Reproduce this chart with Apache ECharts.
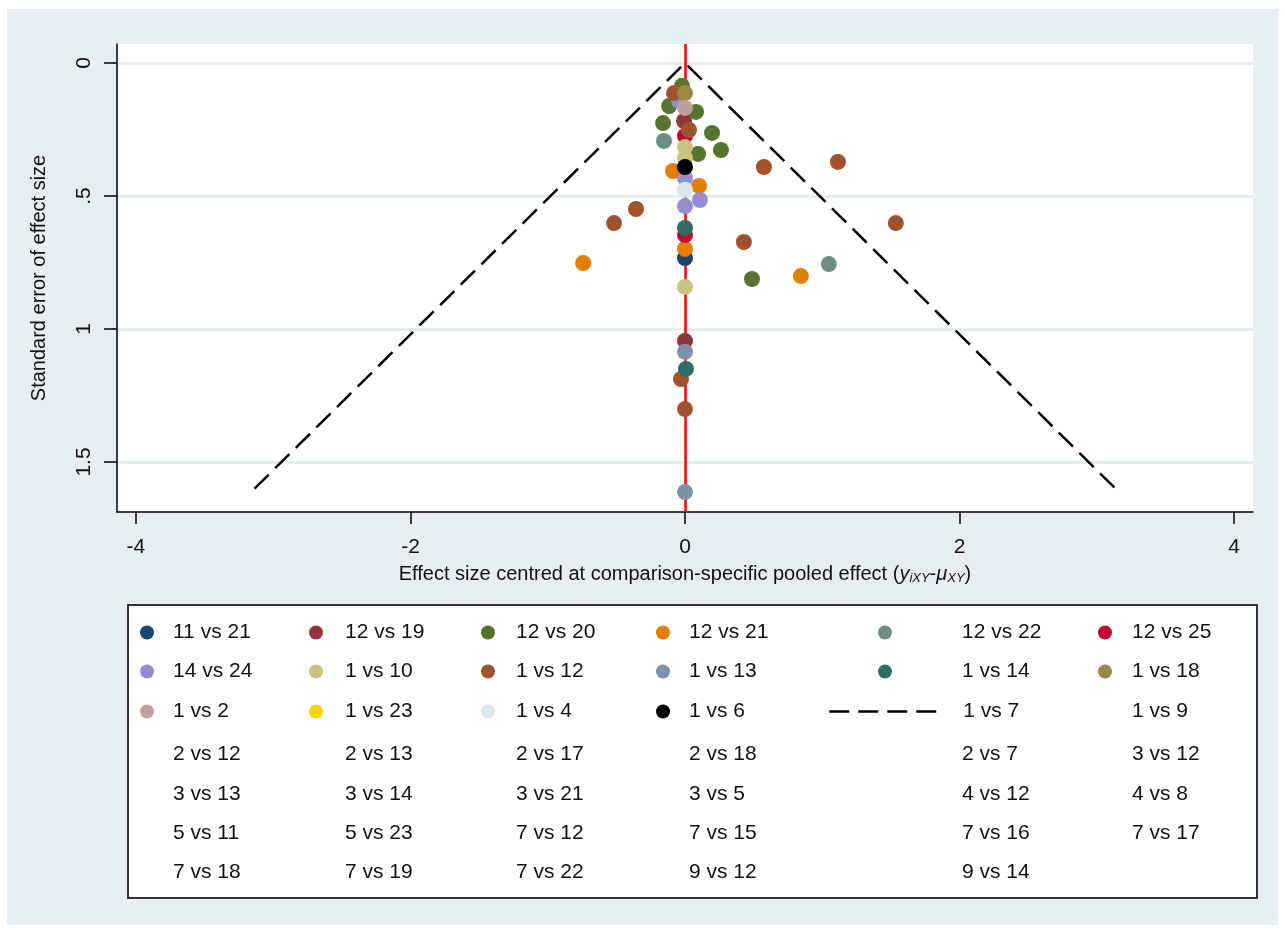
<!DOCTYPE html>
<html>
<head>
<meta charset="utf-8">
<script src="https://cdn.jsdelivr.net/npm/echarts@6/dist/echarts.min.js"></script>
<style>
  html, body { margin: 0; padding: 0; background: #fff; }
  #chart { position: absolute; left: 7px; top: 9px; width: 1271px; height: 916px; }
</style>
</head>
<body>
<div id="chart"></div>
<script>
// comparisons, in legend order
const comparisons = [
  '11 vs 21', '12 vs 19', '12 vs 20', '12 vs 21', '12 vs 22', '12 vs 25',
  '14 vs 24', '1 vs 10', '1 vs 12', '1 vs 13', '1 vs 14', '1 vs 18',
  '1 vs 2', '1 vs 23', '1 vs 4', '1 vs 6', '1 vs 7', '1 vs 9',
  '2 vs 12', '2 vs 13', '2 vs 17', '2 vs 18', '2 vs 7', '3 vs 12',
  '3 vs 13', '3 vs 14', '3 vs 21', '3 vs 5', '4 vs 12', '4 vs 8',
  '5 vs 11', '5 vs 23', '7 vs 12', '7 vs 15', '7 vs 16', '7 vs 17',
  '7 vs 18', '7 vs 19', '7 vs 22', '9 vs 12', '9 vs 14'
]

// [centred effect size, standard error]
const s11v21 = [[0, 0.733]]
const s12v19 = [[-0.007, 0.218], [0, 1.045]]
const s12v20 = [[-0.022, 0.086], [-0.116, 0.162], [0.080, 0.184], [-0.160, 0.226],
  [0.197, 0.263], [0.262, 0.327], [0.095, 0.342], [0.488, 0.812]]
const s12v21 = [[-0.087, 0.406], [0.102, 0.462], [0, 0.699], [-0.742, 0.752], [0.844, 0.801]]
const s12v22 = [[-0.153, 0.293], [1.048, 0.756]]
const s12v25 = [[0, 0.274], [0, 0.647]]
const s14v24 = [[-0.044, 0.143], [0, 0.432], [0.109, 0.515], [0, 0.538]]
const s1v10 = [[0, 0.316], [0, 0.357], [0, 0.842]]
const s1v12 = [[-0.080, 0.113], [0.029, 0.252], [0.575, 0.391], [1.114, 0.372],
  [-0.357, 0.549], [-0.517, 0.602], [1.536, 0.602], [0.429, 0.673],
  [-0.029, 1.188], [0, 1.301]]
const s1v13 = [[0, 1.086], [0, 1.613]]
const s1v14 = [[0, 0.620], [0.007, 1.150]]
const s1v18 = [[0, 0.113]]
const s1v2 = [[0, 0.169]]
const s1v23 = []
const s1v4 = [[0, 0.477]]
const s1v6 = [[0, 0.391]]

// pseudo 95% limits (drawn as "1 vs 7" in the legend)
const funnelX = [-3.136, 0, 3.136]
const funnelSE = [1.6, 0, 1.6]

const yTicks = [0, 0.5, 1, 1.5]
const xTicks = [-4, -2, 0, 2, 4]

const pointSets = {
  '11 vs 21': s11v21, '12 vs 19': s12v19, '12 vs 20': s12v20, '12 vs 21': s12v21,
  '12 vs 22': s12v22, '12 vs 25': s12v25, '14 vs 24': s14v24, '1 vs 10': s1v10,
  '1 vs 12': s1v12, '1 vs 13': s1v13, '1 vs 14': s1v14, '1 vs 18': s1v18,
  '1 vs 2': s1v2, '1 vs 23': s1v23, '1 vs 4': s1v4, '1 vs 6': s1v6
}
const colors = {
  '11 vs 21': '#1a476f', '12 vs 19': '#90353b', '12 vs 20': '#55752f', '12 vs 21': '#e37e00',
  '12 vs 22': '#6e8e84', '12 vs 25': '#c10534', '14 vs 24': '#938dd2', '1 vs 10': '#cac27e',
  '1 vs 12': '#a0522d', '1 vs 13': '#7b92a8', '1 vs 14': '#2d6d66', '1 vs 18': '#9c8847',
  '1 vs 2': '#bfa19c', '1 vs 23': '#ffd200', '1 vs 4': '#d9e6eb', '1 vs 6': '#000000'
}

const font = "'Liberation Sans', Arial, sans-serif"
const OX = 7, OY = 9 // chart div offset in the page

// legend grid (page coords)
const rowY = [633, 672, 712, 755, 795, 834, 873]
const markX = [147, 316, 488, 663, 885, 1105]
const textX = [173, 345, 516, 689, 962, 1132]

const series = []
comparisons.forEach(name => {
  if (name === '1 vs 7') {
    series.push({
      name, type: 'line', symbol: 'none', silent: true, z: 1,
      data: funnelX.map((x, i) => [x, funnelSE[i]]),
      itemStyle: { color: '#000' },
      lineStyle: { color: '#000', width: 2.5, type: [20, 9] },
      markLine: {
        silent: true, symbol: 'none', z: 1,
        label: { show: false },
        lineStyle: { color: '#ff0000', width: 2.5, type: 'solid' },
        data: [{ xAxis: 0 }]
      }
    })
  } else {
    series.push({
      name, type: 'scatter', symbol: 'circle', symbolSize: 16, z: 3,
      itemStyle: { color: colors[name] || 'rgba(0,0,0,0)', opacity: 1 },
      data: pointSets[name] || []
    })
  }
})

const legends = comparisons.map((name, k) => {
  const r = Math.floor(k / 6), c = k % 6
  const hasMark = !!colors[name]
  let left, itemWidth, icon, pad
  const extra = {}
  if (name === '1 vs 7') {
    left = 828; itemWidth = 114; pad = textX[c] - (828 + 114 + 5)
    extra.itemStyle = { opacity: 0 }
    extra.lineStyle = { color: '#000', width: 2.5, type: [20, 9] }
  } else if (hasMark) {
    left = markX[c] - 7; itemWidth = 14; pad = textX[c] - (markX[c] + 7 + 5)
  } else {
    left = textX[c] - 19; itemWidth = 14; icon = 'none'; pad = 0
  }
  return Object.assign({
    left: left - OX, top: rowY[r] - OY - 11, padding: 0,
    itemWidth, itemHeight: 14, selectedMode: false,
    data: [icon ? { name, icon } : name],
    textStyle: { fontFamily: font, fontSize: 21, color: '#111', padding: [0, 0, 0, pad] }
  }, extra)
})

const chart = echarts.init(document.getElementById('chart'))
chart.setOption({
  backgroundColor: '#e6eef1',
  animation: false,
  textStyle: { fontFamily: font },
  graphic: [{
    type: 'rect', left: 127 - OX, top: 604 - OY, z: 0,
    shape: { width: 1129, height: 293 },
    style: { fill: '#fff', stroke: '#333', lineWidth: 2 }
  }],
  grid: {
    left: 117 - OX, top: 44 - OY, width: 1136, height: 468,
    show: true, backgroundColor: '#fff', borderWidth: 0
  },
  xAxis: {
    type: 'value', min: -4.138, max: 4.138,
    axisLine: { show: true, onZero: false, lineStyle: { color: '#000', width: 1.5 } },
    axisTick: { show: true, length: 12, customValues: xTicks, lineStyle: { color: '#000', width: 1.5 } },
    axisLabel: { customValues: xTicks, fontSize: 21, color: '#111', margin: 25 },
    splitLine: { show: false },
    name: 'Effect size centred at comparison-specific pooled effect ({it|y}{sub|iXY}{t|-}{it|μ}{sub|XY}{t|)}',
    nameLocation: 'middle', nameGap: 52,
    nameTextStyle: {
      fontSize: 20, color: '#111',
      rich: {
        it: { fontSize: 20, fontStyle: 'italic', color: '#111' },
        t: { fontSize: 20, color: '#111' },
        sub: { fontSize: 13, fontStyle: 'italic', color: '#111', verticalAlign: 'bottom', padding: [8, 0, 0, 0] }
      }
    }
  },
  yAxis: {
    type: 'value', inverse: true, min: -0.0714, max: 1.688,
    axisLine: { show: true, onZero: false, lineStyle: { color: '#000', width: 1.5 } },
    axisTick: { show: true, length: 13, customValues: yTicks, lineStyle: { color: '#000', width: 1.5 } },
    axisLabel: {
      customValues: yTicks, rotate: 90, fontSize: 21, color: '#111', margin: 22,
      formatter: v => String(v).replace(/^0\./, '.')
    },
    splitLine: { show: true, lineStyle: { color: '#e1eaec', width: 2.5 } },
    name: 'Standard error of effect size', nameLocation: 'middle', nameGap: 68, nameRotate: 90,
    nameTextStyle: { fontSize: 20, color: '#111' }
  },
  legend: legends,
  series
})
</script>
</body>
</html>
